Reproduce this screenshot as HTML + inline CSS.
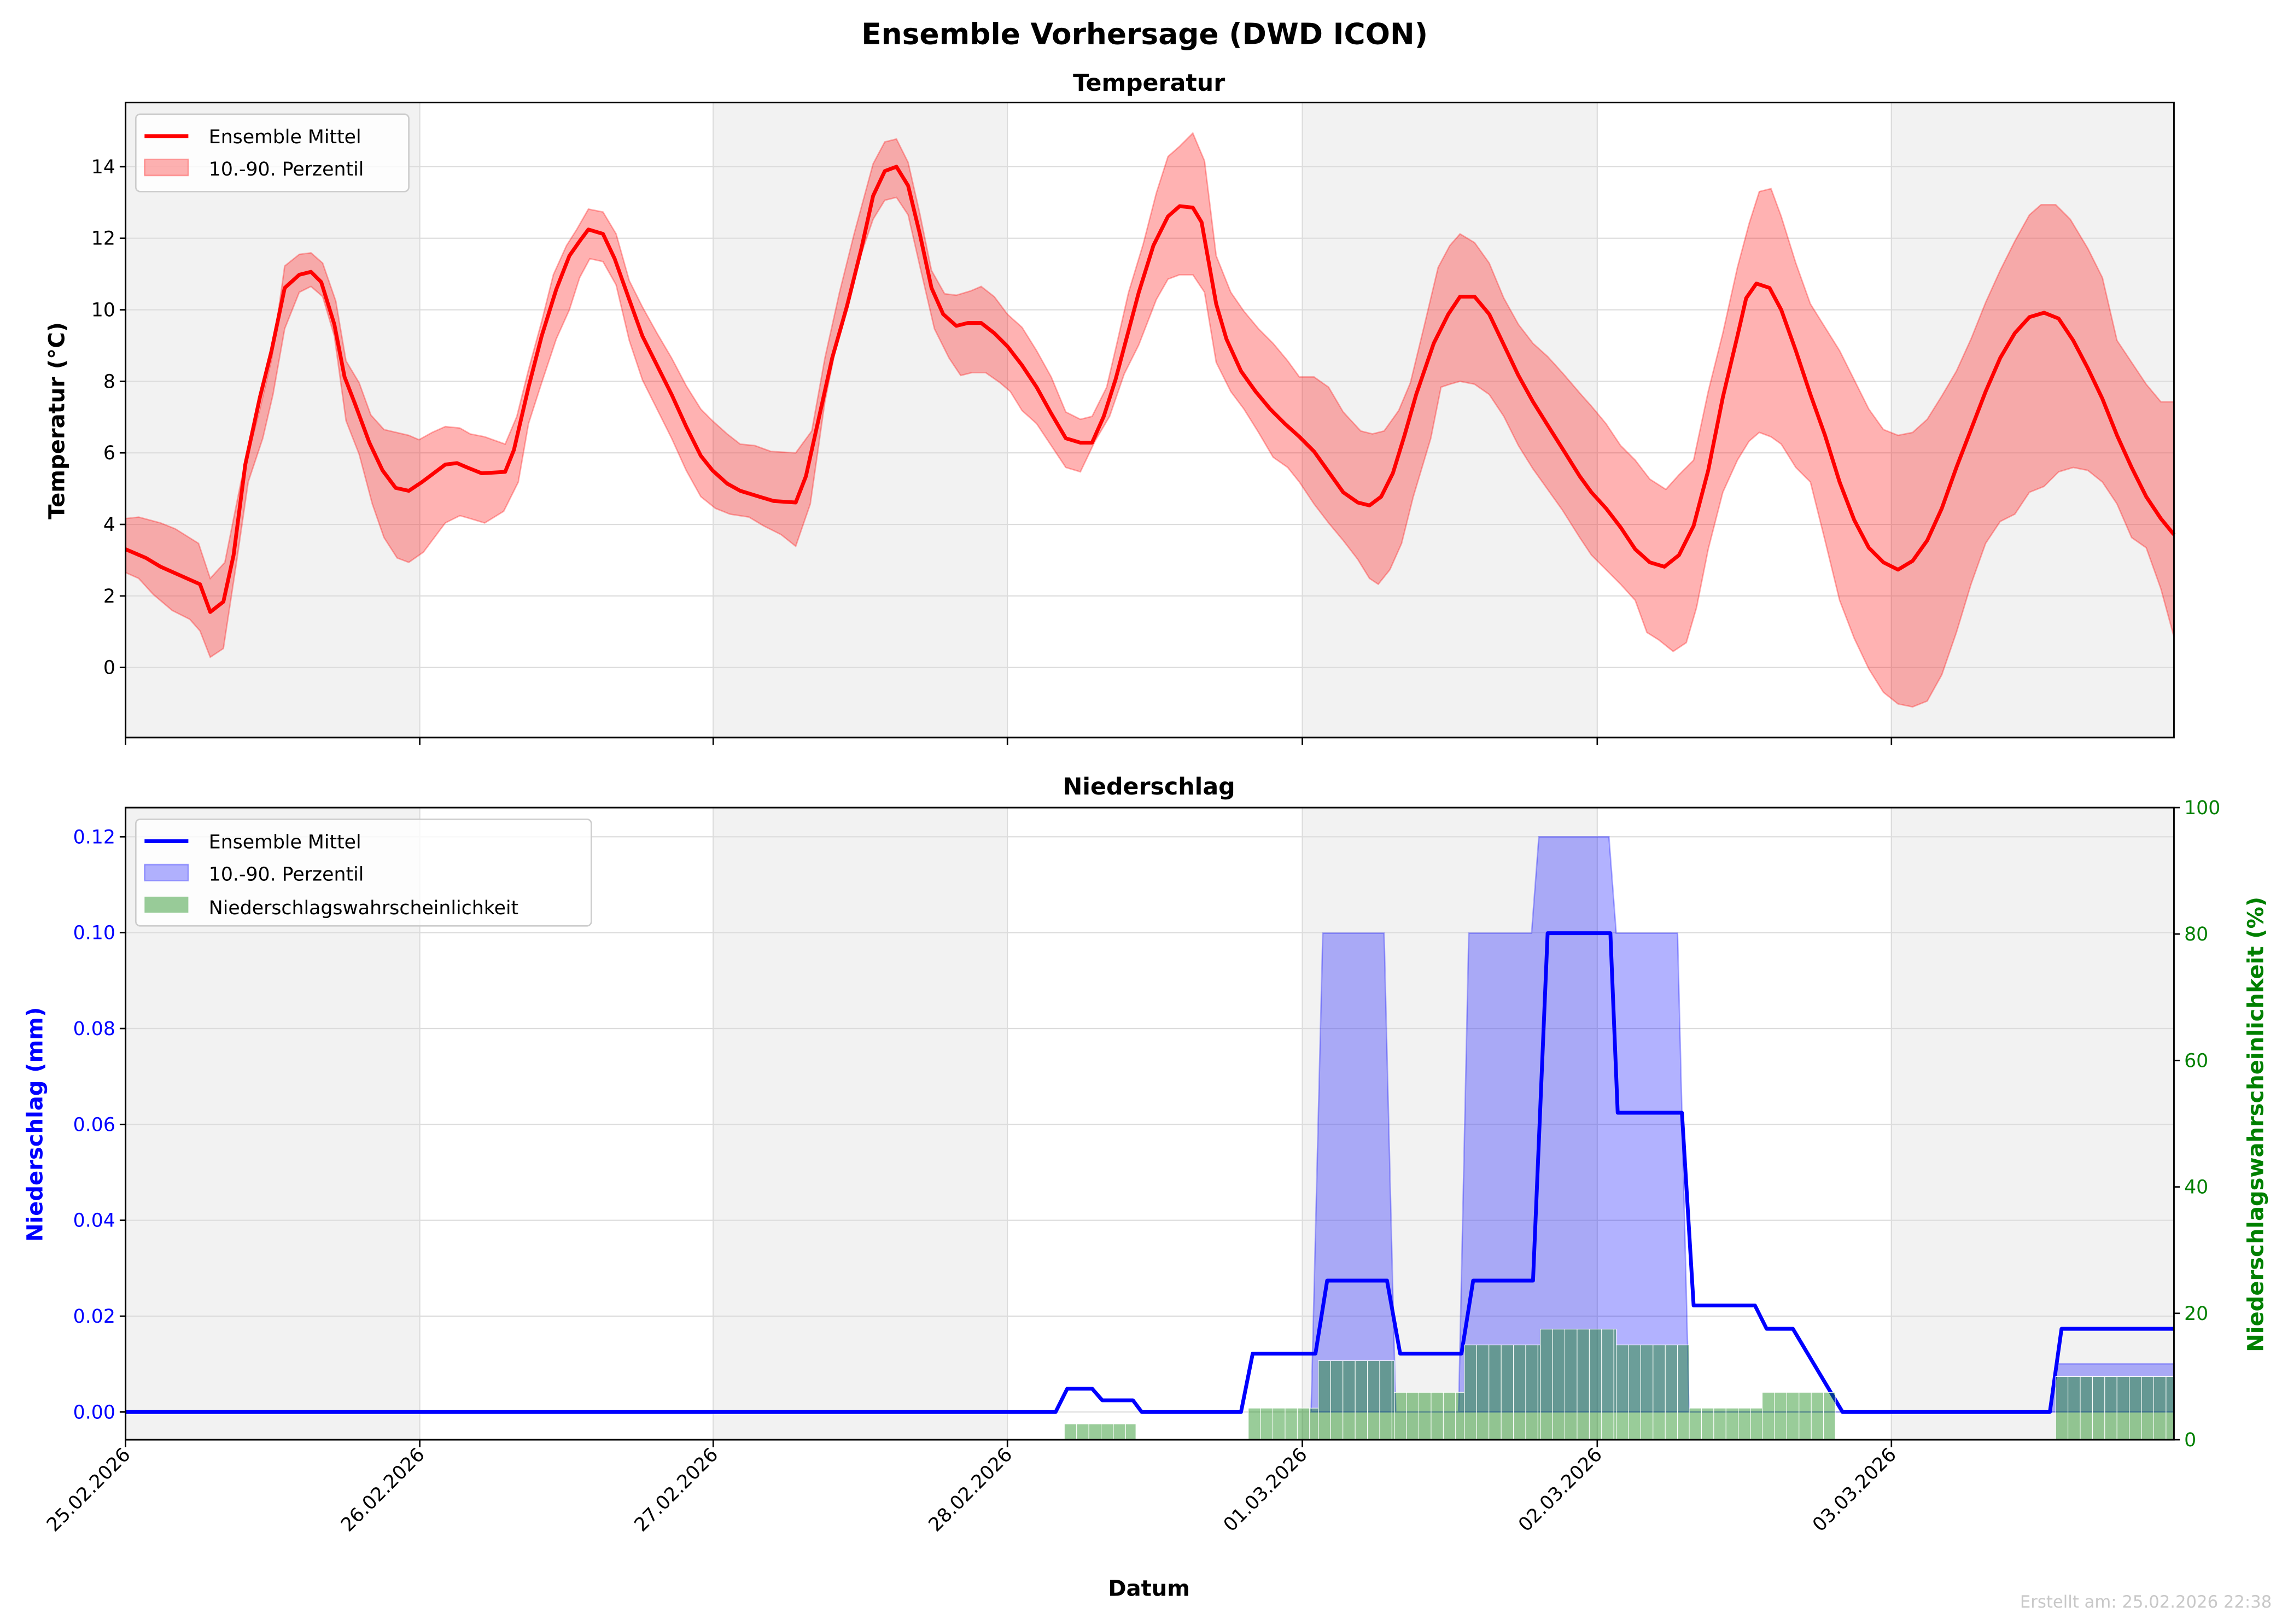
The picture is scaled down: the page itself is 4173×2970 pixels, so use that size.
<!DOCTYPE html>
<html><head><meta charset="utf-8">
<style>html,body{margin:0;padding:0;background:#fff;}svg{display:block;font-family:"DejaVu Sans","Liberation Sans",sans-serif;}</style>
</head><body>
<svg id="s" xmlns="http://www.w3.org/2000/svg" width="4173" height="2970" viewBox="0 0 1563 1112">
<rect width="1563" height="1112" fill="#fff"/>
<text x="784" y="30" font-size="20" font-weight="bold" text-anchor="middle">Ensemble Vorhersage (DWD ICON)</text>
<text x="787" y="62" font-size="16" font-weight="bold" text-anchor="middle">Temperatur</text>
<text x="787" y="544" font-size="16" font-weight="bold" text-anchor="middle">Niederschlag</text>

<g id="top">
<rect x="86" y="70" width="201.5" height="435" fill="#f2f2f2"/>
<rect x="488" y="70" width="202" height="435" fill="#f2f2f2"/>
<rect x="892" y="70" width="202" height="435" fill="#f2f2f2"/>
<rect x="1295" y="70" width="194" height="435" fill="#f2f2f2"/>
</g>
<g id="topgrid" stroke="#dcdcdc" stroke-width="0.8"></g>
<polygon id="tband" fill="#ff0000" fill-opacity="0.3" stroke="#ff0000" stroke-opacity="0.3" stroke-width="1"/>
<polyline id="tmean" fill="none" stroke="#ff0000" stroke-width="2.6" stroke-linejoin="round"/>
<rect x="86" y="70" width="1403" height="435" fill="none" stroke="#000" stroke-width="1.1"/>
<g id="topticks" stroke="#000" stroke-width="1"></g>
<g id="toplabels" font-size="13" text-anchor="end"></g>
<text transform="translate(44,288) rotate(-90)" font-size="15" font-weight="bold" text-anchor="middle">Temperatur (°C)</text>
<rect x="93" y="78" width="187" height="53" rx="3" fill="#fff" fill-opacity="0.8" stroke="#ccc"/>
<line x1="99" y1="93" x2="129" y2="93" stroke="#f00" stroke-width="2.6"/>
<rect x="99" y="109" width="30" height="11" fill="#f00" fill-opacity="0.3" stroke="#f00" stroke-opacity="0.3"/>
<text x="143" y="98" font-size="13">Ensemble Mittel</text>
<text x="143" y="120" font-size="13">10.-90. Perzentil</text>

<rect x="86" y="553" width="201.5" height="433" fill="#f2f2f2"/>
<rect x="488" y="553" width="202" height="433" fill="#f2f2f2"/>
<rect x="892" y="553" width="202" height="433" fill="#f2f2f2"/>
<rect x="1295" y="553" width="194" height="433" fill="#f2f2f2"/>
<g id="botgrid" stroke="#dcdcdc" stroke-width="0.8"></g>
<polygon id="pband" fill="#0000ff" fill-opacity="0.3" stroke="#0000ff" stroke-opacity="0.3" stroke-width="1"/>
<polyline id="pmean" fill="none" stroke="#0000ff" stroke-width="2.6" stroke-linejoin="round"/>
<g id="bars"></g>
<rect x="86" y="553" width="1403" height="433" fill="none" stroke="#000" stroke-width="1.1"/>
<g id="botticks" stroke="#000" stroke-width="1"></g>
<g id="botlabels" font-size="13"></g>
<text transform="translate(29,770) rotate(-90)" font-size="15" font-weight="bold" text-anchor="middle" fill="#0000ff">Niederschlag (mm)</text>
<text transform="translate(1550,770) rotate(-90)" font-size="15" font-weight="bold" text-anchor="middle" fill="#008000">Niederschlagswahrscheinlichkeit (%)</text>
<rect x="93" y="561" width="312" height="73" rx="3" fill="#fff" fill-opacity="0.8" stroke="#ccc"/>
<line x1="99" y1="576" x2="129" y2="576" stroke="#00f" stroke-width="2.6"/>
<rect x="99" y="592" width="30" height="11" fill="#00f" fill-opacity="0.3" stroke="#00f" stroke-opacity="0.3"/>
<rect x="99" y="614" width="30" height="11" fill="#008000" fill-opacity="0.4"/>
<text x="143" y="581" font-size="13">Ensemble Mittel</text>
<text x="143" y="603" font-size="13">10.-90. Perzentil</text>
<text x="143" y="626" font-size="13">Niederschlagswahrscheinlichkeit</text>

<text x="787" y="1093" font-size="15" font-weight="bold" text-anchor="middle">Datum</text>
<text x="1556" y="1101" font-size="11.5" fill="#c8c8c8" text-anchor="end">Erstellt am: 25.02.2026 22:38</text>
</svg>
<script>
const NS="http://www.w3.org/2000/svg";
function el(p,t,a,txt){const e=document.createElementNS(NS,t);for(const k in a)e.setAttribute(k,a[k]);if(txt!==undefined)e.textContent=txt;document.getElementById(p).appendChild(e);return e;}
const days=[86,287.5,488.5,690,892,1094,1295.5];
const names=["25.02.2026","26.02.2026","27.02.2026","28.02.2026","01.03.2026","02.03.2026","03.03.2026"];
for(let v=0;v<=14;v+=2){const y=457-v*24.5;el("topgrid","line",{x1:86,x2:1489,y1:y,y2:y});el("topticks","line",{x1:82,x2:86,y1:y,y2:y});el("toplabels","text",{x:79,y:y+4.5},String(v));}
for(const x of days){el("topgrid","line",{x1:x,x2:x,y1:70,y2:505});el("topticks","line",{x1:x,x2:x,y1:505,y2:510});
 el("botgrid","line",{x1:x,x2:x,y1:553,y2:986});el("botticks","line",{x1:x,x2:x,y1:986,y2:991});}
for(let i=0;i<=6;i++){const v=i*0.02;const y=967-i*65.67;el("botgrid","line",{x1:86,x2:1489,y1:y,y2:y});el("botticks","line",{x1:82,x2:86,y1:y,y2:y});el("botlabels","text",{x:79,y:y+4.5,"text-anchor":"end",fill:"#0000ff"},v.toFixed(2));}
for(let i=0;i<=5;i++){const y=986-i*86.6;el("botticks","line",{x1:1489,x2:1493,y1:y,y2:y});el("botlabels","text",{x:1496,y:y+4.5,fill:"#008000"},String(i*20));}
days.forEach((x,i)=>{el("botlabels","text",{transform:`translate(${x+4},${997}) rotate(-45)`,"text-anchor":"end","font-size":"13"},names[i]);});

const mean=[[86,376],[100,382],[110,388],[137,400],[144,419],[153,412],[160,380],[168,318],[178,272],[186,240],[195,197],[205,188],[213,186],[220,193],[229,222],[236,258],[243,276],[253,303],[262,322],[271,334],[280,336],[289,330],[305,318],[313,317],[320,320],[330,324],[346,323],[352,308],[362,265],[371,230],[381,198],[390,175],[397,165],[403,157],[413,160],[421,177],[431,205],[440,230],[450,250],[460,270],[470,292],[480,312],[488,322],[498,331],[507,336],[520,340],[530,343],[545,344],[552,326],[560,290],[570,245],[580,210],[590,170],[598,134],[606,117],[614,114],[622,127],[630,160],[638,197],[646,215],[655,223],[663,221],[672,221],[681,228],[690,237],[700,250],[710,265],[720,283],[730,300],[740,303],[748,303],[756,285],[764,260],[772,230],[780,200],[790,168],[800,148],[808,141],[817,142],[823,152],[833,208],[840,232],[850,254],[860,268],[870,280],[880,290],[890,299],[900,309],[910,323],[920,337],[930,344],[938,346],[946,340],[954,324],[962,298],[970,270],[982,235],[992,215],[1000,203],[1010,203],[1020,215],[1030,236],[1040,257],[1050,275],[1060,291],[1072,310],[1082,326],[1090,337],[1100,348],[1110,361],[1120,376],[1130,385],[1140,388],[1150,380],[1160,360],[1170,322],[1180,272],[1190,230],[1196,204],[1203,194],[1212,197],[1220,212],[1230,240],[1240,270],[1250,298],[1260,330],[1270,356],[1280,375],[1290,385],[1300,390],[1310,384],[1320,370],[1330,348],[1340,320],[1350,294],[1360,268],[1370,245],[1380,228],[1390,217],[1400,214],[1410,218],[1420,233],[1430,252],[1440,273],[1450,298],[1460,320],[1470,340],[1480,355],[1489,366]];
const up=[[86,355],[95,354],[110,358],[120,362],[136,372],[144,396],[154,385],[165,330],[178,280],[186,246],[195,182],[205,174],[213,173],[221,180],[230,206],[237,247],[246,262],[254,284],[263,294],[280,298],[287,301],[296,296],[305,292],[315,293],[322,297],[332,299],[346,304],[354,285],[362,253],[371,220],[379,188],[388,168],[395,157],[403,143],[413,145],[422,160],[431,192],[440,210],[450,228],[460,245],[470,264],[480,280],[488,288],[498,297],[507,304],[517,305],[528,309],[545,310],[556,295],[565,245],[575,200],[585,160],[598,112],[606,97],[614,95],[622,111],[630,146],[638,185],[647,201],[655,202],[665,199],[672,196],[681,203],[690,215],[700,224],[710,240],[720,258],[730,282],[740,287],[748,285],[758,265],[765,235],[773,200],[783,167],[792,132],[800,107],[808,100],[817,91],[825,110],[833,175],[843,200],[852,213],[862,225],[872,235],[882,247],[890,258],[900,258],[910,265],[920,282],[932,295],[940,297],[948,295],[958,281],[966,262],[975,225],[985,183],[993,168],[1000,160],[1010,166],[1020,180],[1030,204],[1040,222],[1050,235],[1060,244],[1070,255],[1082,269],[1090,278],[1100,290],[1110,305],[1120,315],[1130,328],[1141,335],[1150,325],[1160,315],[1170,268],[1180,228],[1190,183],[1198,153],[1205,131],[1213,129],[1220,148],[1230,180],[1240,208],[1250,224],[1260,240],[1270,260],[1280,280],[1290,294],[1300,298],[1310,296],[1320,287],[1330,271],[1340,254],[1350,232],[1360,207],[1370,185],[1380,165],[1390,147],[1398,140],[1408,140],[1418,150],[1430,170],[1440,190],[1450,233],[1460,248],[1470,263],[1480,275],[1489,275]];
const lo=[[86,392],[95,396],[105,407],[118,418],[130,424],[137,432],[144,450],[153,444],[162,385],[170,330],[180,300],[187,270],[195,225],[205,200],[213,196],[221,203],[229,230],[237,288],[246,311],[255,345],[263,368],[272,382],[280,385],[290,378],[305,358],[315,353],[322,355],[332,358],[345,350],[355,330],[362,290],[371,262],[381,232],[390,212],[397,190],[404,177],[413,179],[422,195],[431,233],[440,260],[450,280],[460,300],[470,322],[480,340],[490,348],[500,352],[513,354],[523,360],[535,366],[545,374],[555,345],[565,275],[575,225],[585,188],[598,150],[606,137],[614,135],[622,147],[630,182],[640,225],[650,245],[658,257],[666,255],[675,255],[685,262],[692,268],[700,281],[710,290],[720,305],[730,320],[740,323],[750,302],[760,285],[770,256],[780,236],[792,205],[800,191],[808,188],[817,188],[825,200],[833,248],[843,268],[852,280],[862,296],[872,313],[882,320],[890,330],[900,345],[910,358],[920,370],[930,383],[938,396],[944,400],[952,390],[960,372],[968,340],[980,300],[987,265],[993,263],[1000,261],[1010,263],[1020,270],[1030,285],[1040,305],[1050,321],[1060,335],[1070,349],[1082,368],[1090,380],[1100,390],[1110,400],[1120,411],[1128,433],[1136,438],[1146,446],[1155,440],[1162,416],[1170,376],[1180,337],[1190,315],[1198,302],[1205,296],[1213,299],[1220,304],[1230,320],[1240,330],[1250,370],[1260,411],[1270,437],[1280,458],[1290,474],[1300,482],[1310,484],[1320,480],[1330,462],[1340,433],[1350,400],[1360,372],[1370,357],[1380,352],[1390,337],[1400,333],[1410,323],[1420,320],[1430,322],[1440,330],[1450,345],[1460,368],[1470,375],[1480,403],[1489,436]];
const P=a=>a.map(p=>p.join(",")).join(" ");
document.getElementById("tmean").setAttribute("points",P(mean));
document.getElementById("tband").setAttribute("points",P(up.concat(lo.slice().reverse())));
const pm=[[86,967],[723,967],[731,951],[748,951],[755,959],[776,959],[782,967],[850,967],[858,927],[901,927],[909,877],[950,877],[959,927],[1001,927],[1009,877],[1050,877],[1060,639],[1103,639],[1108,762],[1152,762],[1160,894],[1202,894],[1210,910],[1228,910],[1262,967],[1404,967],[1412,910],[1489,910]];
document.getElementById("pmean").setAttribute("points",P(pm));
const pb=[[898,967],[906,639],[948,639],[956,967],[999,967],[1006,639],[1049,639],[1054,573],[1102,573],[1107,639],[1149,639],[1157,967],[1404,967],[1408,934],[1489,934],[1489,967],[898,967]];
document.getElementById("pband").setAttribute("points",P(pb));
const hw=201.5/24;
const segs=[[729,778,2.5],[855,903,5],[903,955,12.5],[955,1003,7.5],[1003,1055,15],[1055,1107,17.5],[1107,1157,15],[1157,1207,5],[1207,1257,7.5],[1408,1489,10]];
for(const [a,b,v] of segs){const h=v*4.33;
 for(let x=a;x<b-0.5;x+=hw){const w=Math.min(hw,b-x);
  el("bars","rect",{x:x,y:986-h,width:w,height:h,fill:"#008000","fill-opacity":"0.4",stroke:"#fff","stroke-width":"0.4"});}}
</script>
</body></html>
